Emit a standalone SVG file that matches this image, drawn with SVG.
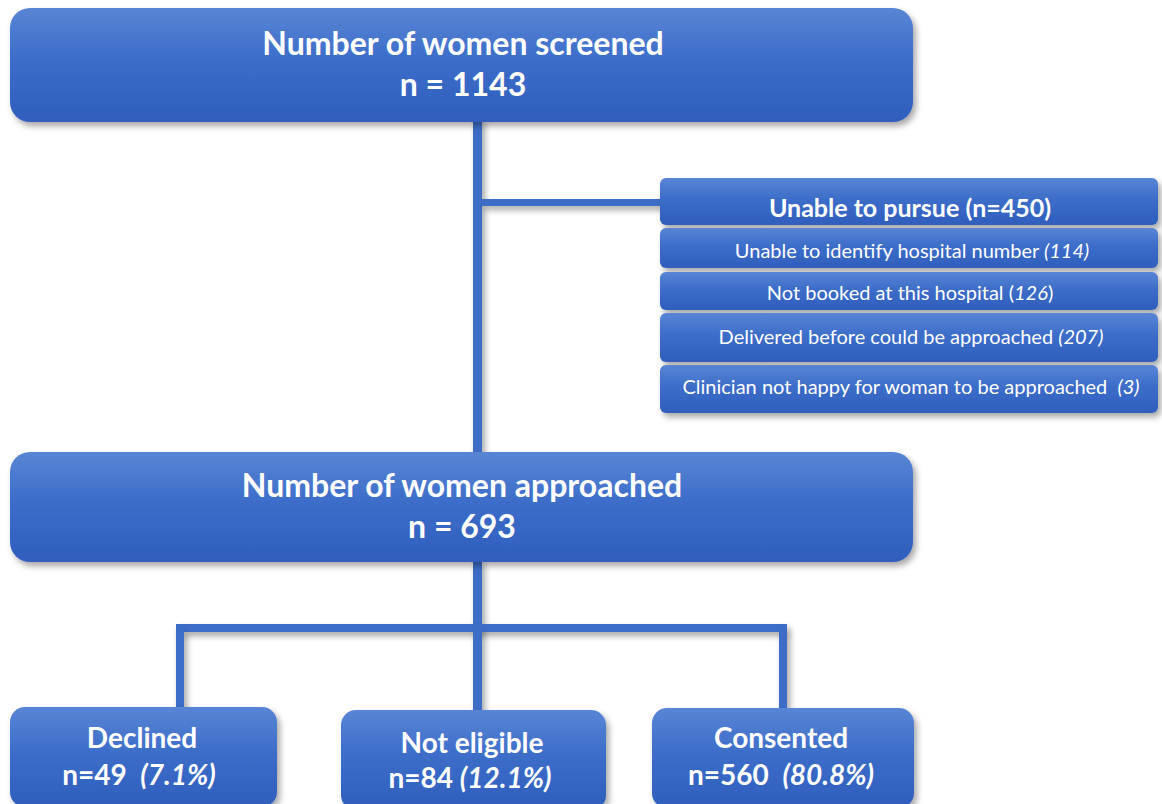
<svg xmlns="http://www.w3.org/2000/svg" width="1162" height="804" viewBox="0 0 1162 804">
<defs>
<linearGradient id="g" x1="0" y1="0" x2="0" y2="1">
<stop offset="0" stop-color="#5985d5"/>
<stop offset="0.45" stop-color="#3c6dc9"/>
<stop offset="1" stop-color="#305ebd"/>
</linearGradient>
<filter id="sh" filterUnits="userSpaceOnUse" x="0" y="0" width="1162" height="804">
<feDropShadow dx="3" dy="4" stdDeviation="3" flood-color="#000" flood-opacity="0.35"/>
</filter>
</defs>
<style>
.box{fill:url(#g);filter:url(#sh)}
.ln{fill:#3e6dc7;filter:url(#sh)}
text{font-family:Lato,"Liberation Sans",sans-serif;fill:#fff;text-anchor:middle;white-space:pre}
.big{font-size:32px;font-weight:bold}
.hd{font-size:25px;font-weight:bold}
.sm{font-size:20px}
.bt{font-size:28px;font-weight:bold}
.i{font-style:italic}
</style>
<g id="connectors">
<rect class="ln" x="473" y="118" width="9" height="338"/>
<rect class="ln" x="482" y="199" width="180" height="7"/>
<rect class="ln" x="473" y="560" width="9" height="70"/>
<rect class="ln" x="176" y="624" width="611" height="8"/>
<rect class="ln" x="176" y="630" width="8" height="79"/>
<rect class="ln" x="473" y="630" width="9" height="82"/>
<rect class="ln" x="779" y="630" width="8" height="79"/>
</g>
<g id="screened">
<rect class="box" x="10" y="8" width="903" height="114" rx="20"/>
<text class="big" x="463" y="55">Number of women screened</text>
<text class="big" x="463" y="96">n = 1143</text>
</g>
<g id="unable">
<rect class="box" x="660" y="178" width="498" height="47" rx="6"/>
<text class="hd" x="910" y="217">Unable to pursue (n=450)</text>
</g>
<g id="reason1">
<rect class="box" x="660" y="228" width="498" height="40" rx="6"/>
<text class="sm" x="912" y="258">Unable to identify hospital number <tspan class="i">(114)</tspan></text>
</g>
<g id="reason2">
<rect class="box" x="660" y="272" width="498" height="38" rx="6"/>
<text class="sm" x="910" y="300">Not booked at this hospital (<tspan class="i">126</tspan>)</text>
</g>
<g id="reason3">
<rect class="box" x="660" y="313" width="498" height="49" rx="6"/>
<text class="sm" x="911" y="344">Delivered before could be approached <tspan class="i">(207)</tspan></text>
</g>
<g id="reason4">
<rect class="box" x="660" y="365" width="498" height="48" rx="6"/>
<text class="sm" x="911" y="394">Clinician not happy for woman to be approached  <tspan class="i">(3)</tspan></text>
</g>
<g id="approached">
<rect class="box" x="10" y="452" width="903" height="110" rx="20"/>
<text class="big" x="462" y="497">Number of women approached</text>
<text class="big" x="462" y="538">n = 693</text>
</g>
<g id="declined">
<rect class="box" x="10" y="707" width="267" height="100" rx="15"/>
<text class="bt" x="142" y="748">Declined</text>
<text class="bt" x="139" y="785">n=49  <tspan class="i">(7.1%)</tspan></text>
</g>
<g id="noteligible">
<rect class="box" x="341" y="710" width="265" height="100" rx="15"/>
<text class="bt" x="472" y="753">Not eligible</text>
<text class="bt" x="470" y="788">n=84 <tspan class="i">(12.1%)</tspan></text>
</g>
<g id="consented">
<rect class="box" x="652" y="708" width="262" height="100" rx="15"/>
<text class="bt" x="781" y="748">Consented</text>
<text class="bt" x="781" y="785">n=560  <tspan class="i">(80.8%)</tspan></text>
</g>
</svg>
